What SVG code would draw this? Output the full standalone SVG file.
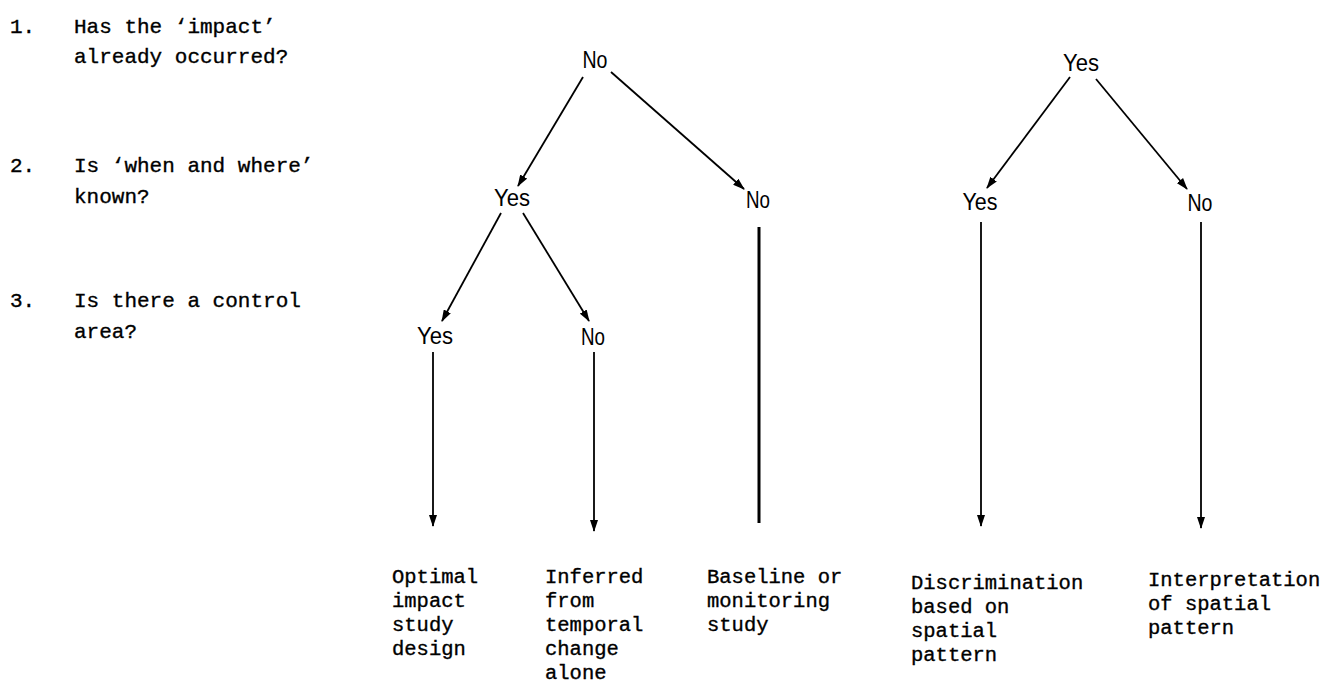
<svg xmlns="http://www.w3.org/2000/svg" width="1341" height="686" viewBox="0 0 1341 686">
<style>
.q{font-family:"Liberation Mono","DejaVu Sans Mono",monospace;font-size:21px;fill:#000;stroke:#000;stroke-width:0.35}
.lab{font-family:"Liberation Mono","DejaVu Sans Mono",monospace;font-size:20.5px;fill:#000;stroke:#000;stroke-width:0.35}
.yn{font-family:"Liberation Sans",Arial,sans-serif;font-size:23px;fill:#000;text-anchor:middle}
.c{stroke:#000;stroke-width:1.8;fill:none}
.a{marker-end:url(#ah)}
.thick{stroke-width:3}
</style>
<defs>
<marker id="ah" markerWidth="12" markerHeight="8" refX="11" refY="4" orient="auto" markerUnits="userSpaceOnUse">
<path d="M0,0 L12,4 L0,8 Z" fill="#000"/>
</marker>
</defs>
<rect width="1341" height="686" fill="#fff"/>
<g id="questions">
<text class="q" x="10" y="33">1.</text>
<text class="q" x="74" y="33">Has the ‘impact’</text>
<text class="q" x="74" y="63">already occurred?</text>
<text class="q" x="10" y="172">2.</text>
<text class="q" x="74" y="172">Is ‘when and where’</text>
<text class="q" x="74" y="203">known?</text>
<text class="q" x="10" y="307">3.</text>
<text class="q" x="74" y="307">Is there a control</text>
<text class="q" x="74" y="338">area?</text>
</g>
<g id="connectors">
<line class="c a" x1="583" y1="77" x2="518" y2="186"/>
<line class="c a" x1="611" y1="72" x2="744" y2="189"/>
<line class="c a" x1="501" y1="213" x2="442" y2="321"/>
<line class="c a" x1="523" y1="213" x2="589" y2="321"/>
<line class="c a" x1="433" y1="352" x2="433" y2="526"/>
<line class="c a" x1="594" y1="352" x2="594" y2="531"/>
<line class="c thick" x1="759" y1="227" x2="759" y2="523"/>
<line class="c a" x1="1070" y1="77" x2="987" y2="188"/>
<line class="c a" x1="1096" y1="79" x2="1187" y2="189"/>
<line class="c a" x1="981" y1="222" x2="981" y2="526"/>
<line class="c a" x1="1201" y1="222" x2="1201" y2="528"/>
</g>
<g id="n-root1"><text class="yn" x="595" y="68" textLength="25" lengthAdjust="spacingAndGlyphs">No</text></g>
<g id="n-yes2a"><text class="yn" x="512" y="206" textLength="36" lengthAdjust="spacingAndGlyphs">Yes</text></g>
<g id="n-no2a"><text class="yn" x="758" y="208" textLength="24" lengthAdjust="spacingAndGlyphs">No</text></g>
<g id="n-yes3"><text class="yn" x="435" y="344" textLength="36" lengthAdjust="spacingAndGlyphs">Yes</text></g>
<g id="n-no3"><text class="yn" x="593" y="345" textLength="24" lengthAdjust="spacingAndGlyphs">No</text></g>
<g id="n-root2"><text class="yn" x="1081" y="71" textLength="36" lengthAdjust="spacingAndGlyphs">Yes</text></g>
<g id="n-yes2b"><text class="yn" x="980" y="210" textLength="35" lengthAdjust="spacingAndGlyphs">Yes</text></g>
<g id="n-no2b"><text class="yn" x="1200" y="211" textLength="25" lengthAdjust="spacingAndGlyphs">No</text></g>
<g id="out-optimal">
<text class="lab" x="392" y="583">Optimal</text>
<text class="lab" x="392" y="607">impact</text>
<text class="lab" x="392" y="631">study</text>
<text class="lab" x="392" y="655">design</text>
</g>
<g id="out-inferred">
<text class="lab" x="545" y="583">Inferred</text>
<text class="lab" x="545" y="607">from</text>
<text class="lab" x="545" y="631">temporal</text>
<text class="lab" x="545" y="655">change</text>
<text class="lab" x="545" y="679">alone</text>
</g>
<g id="out-baseline">
<text class="lab" x="707" y="583">Baseline or</text>
<text class="lab" x="707" y="607">monitoring</text>
<text class="lab" x="707" y="631">study</text>
</g>
<g id="out-discrimination">
<text class="lab" x="911" y="589">Discrimination</text>
<text class="lab" x="911" y="613">based on</text>
<text class="lab" x="911" y="637">spatial</text>
<text class="lab" x="911" y="661">pattern</text>
</g>
<g id="out-interpretation">
<text class="lab" x="1148" y="586">Interpretation</text>
<text class="lab" x="1148" y="610">of spatial</text>
<text class="lab" x="1148" y="634">pattern</text>
</g>
</svg>
